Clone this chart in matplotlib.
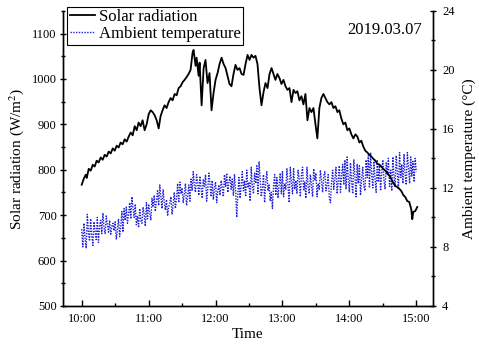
import matplotlib.pyplot as plt
from matplotlib.ticker import MultipleLocator, FixedLocator

# Solar radiation (W/m2), minutes after 10:00
solar_min = [0, 1.8, 3.6, 4.5, 6.3, 8.1, 9.9, 11.6, 13.4, 15.2,
             17.0, 18.8, 20.6, 22.4, 24.2, 26.0, 27.8, 29.6, 31.3, 33.1,
             34.9, 36.7, 38.5, 40.3, 42.1, 43.9, 45.7, 47.5, 49.3, 51.0,
             52.8, 54.6, 56.4, 58.2, 60.0, 61.8, 63.6, 65.4, 67.2, 69.0,
             70.7, 72.5, 74.3, 76.1, 77.9, 79.7, 81.5, 83.3, 85.1, 86.9,
             88.7, 90.5, 92.2, 94.0, 95.8, 97.6, 99.4, 100.3, 102.1, 103.0,
             104.8, 105.7, 107.5, 109.3, 111.0, 112.8, 114.6, 116.4, 118.2, 120.0,
             121.8, 123.6, 125.4, 127.2, 129.0, 130.7, 132.5, 134.3, 136.1, 137.9,
             139.7, 141.5, 143.3, 145.1, 146.9, 148.7, 150.5, 152.2, 154.0, 155.8,
             157.6, 159.4, 161.2, 163.0, 164.8, 166.6, 168.4, 170.2, 171.9, 173.7,
             175.5, 177.3, 179.1, 180.9, 182.7, 184.5, 186.3, 188.1, 189.9, 191.7,
             193.4, 195.2, 197.0, 198.8, 200.6, 202.4, 204.2, 206.0, 207.8, 209.6,
             211.3, 213.1, 214.9, 216.7, 218.5, 220.3, 222.1, 223.9, 225.7, 227.5,
             229.3, 231.0, 232.8, 234.6, 236.4, 238.2, 240.0, 241.8, 243.6, 245.4,
             247.2, 249.0, 250.7, 252.5, 254.3, 256.1, 257.9, 259.7, 261.5, 263.3,
             265.1, 266.9, 268.7, 270.4, 272.2, 274.0, 275.8, 277.6, 279.4, 281.2,
             283.0, 284.8, 286.6, 288.4, 290.1, 291.9, 293.7, 295.5, 296.4, 297.3,
             299.1, 300.9]
solar = [767, 780, 789, 782, 802, 798, 811, 807, 820, 816,
         827, 822, 833, 829, 840, 836, 847, 842, 853, 849,
         860, 856, 867, 862, 873, 882, 876, 896, 887, 904,
         896, 909, 887, 900, 922, 931, 927, 920, 909, 891,
         918, 931, 942, 936, 949, 958, 953, 967, 964, 980,
         984, 993, 998, 1004, 1011, 1020, 1058, 1064, 1029, 1047,
         1007, 1036, 942, 1024, 1042, 991, 1013, 931, 969, 998,
         1013, 1033, 1047, 1033, 1024, 1007, 989, 984, 1011, 1031,
         1020, 1024, 1011, 1009, 1033, 1053, 1042, 1053, 1047, 1051,
         1033, 980, 942, 971, 991, 980, 1011, 1024, 1011, 998,
         1011, 1002, 989, 998, 984, 976, 980, 949, 976, 969,
         973, 953, 962, 944, 967, 909, 936, 927, 936, 900,
         869, 936, 958, 967, 958, 949, 944, 949, 936, 940,
         927, 931, 913, 900, 904, 887, 891, 878, 869, 878,
         873, 860, 864, 851, 842, 838, 833, 829, 824, 820,
         813, 811, 807, 802, 798, 793, 787, 780, 771, 764,
         762, 758, 753, 744, 740, 731, 729, 713, 691, 707,
         709, 718]

# Ambient temperature (deg C), one reading per minute from 10:00 to 15:00
temp = [9.2, 8.0, 9.6, 8.6, 7.9, 10.2, 9.0, 8.4, 9.9, 8.8,
        8.1, 9.7, 9.0, 8.5, 10.0, 8.3, 9.4, 9.8, 8.9, 10.3,
        9.3, 8.9, 10.1, 9.5, 9.0, 9.8, 8.8, 9.4, 9.6, 9.1,
        9.7, 8.5, 9.2, 9.9, 8.7, 9.4, 10.4, 9.0, 10.6, 9.8,
        10.7, 9.6, 10.2, 11.0, 9.9, 11.4, 10.6, 10.0, 10.9, 9.5,
        10.1, 9.3, 10.6, 9.8, 9.6, 10.7, 10.2, 9.4, 11.0, 9.9,
        10.9, 10.3, 9.8, 11.3, 10.7, 11.5, 10.4, 11.1, 11.8, 10.8,
        12.2, 11.4, 10.6, 11.9, 11.0, 10.5, 11.2, 10.1, 10.7, 11.0,
        11.4, 10.2, 10.9, 11.7, 10.6, 11.3, 12.3, 11.0, 12.4, 11.6,
        12.0, 11.0, 11.6, 12.3, 10.8, 11.4, 12.2, 11.1, 12.6, 11.8,
        13.1, 12.2, 11.7, 12.9, 12.3, 11.5, 12.8, 12.0, 11.3, 12.6,
        12.1, 12.9, 11.1, 11.9, 13.0, 12.3, 11.4, 12.5, 11.2, 12.0,
        12.4, 11.0, 11.8, 12.2, 11.5, 12.5, 12.0, 11.4, 12.9, 12.1,
        13.0, 11.7, 12.4, 12.8, 11.9, 12.6, 11.5, 12.9, 11.8, 10.0,
        11.6, 12.7, 11.3, 12.2, 13.1, 11.8, 12.5, 11.4, 13.2, 12.0,
        12.4, 11.1, 13.4, 12.1, 11.6, 13.0, 12.3, 13.5, 11.6, 13.8,
        12.6, 11.4, 12.0, 12.9, 11.0, 12.4, 13.1, 11.8, 12.2, 11.1,
        11.7, 10.6, 12.1, 12.9, 11.5, 12.7, 11.3, 12.2, 13.0, 11.6,
        13.1, 11.4, 12.3, 11.9, 13.3, 12.2, 11.0, 13.4, 12.4, 11.6,
        13.3, 11.9, 12.5, 11.6, 13.2, 12.6, 11.4, 12.9, 13.4, 11.8,
        12.4, 11.3, 13.4, 12.1, 11.6, 12.9, 12.2, 11.4, 13.3, 12.5,
        13.0, 11.4, 12.3, 11.9, 13.2, 12.5, 11.7, 12.8, 13.1, 11.8,
        12.2, 12.9, 11.3, 11.0, 12.4, 13.2, 11.9, 12.6, 13.4, 11.6,
        12.5, 13.5, 11.7, 12.8, 13.6, 12.2, 13.9, 11.9, 14.1, 12.6,
        11.7, 13.7, 12.4, 11.6, 13.9, 12.8, 11.4, 13.6, 12.3, 13.5,
        11.5, 12.6, 13.4, 12.1, 11.8, 13.9, 12.7, 14.2, 12.0, 14.4,
        12.9, 12.0, 13.8, 12.6, 11.7, 13.9, 12.4, 13.6, 11.8, 13.0,
        13.9, 12.5, 11.9, 13.7, 12.9, 14.0, 12.1, 13.2, 11.8, 14.1,
        12.8, 12.1, 14.2, 13.1, 11.9, 14.4, 12.7, 13.6, 12.3, 14.3,
        12.9, 12.2, 14.4, 13.4, 12.3, 14.1, 12.8, 13.8, 12.4, 14.0, 13.1]

hour_ticks = [10, 11, 12, 13, 14, 15]
hour_labels = ["10:00", "11:00", "12:00", "13:00", "14:00", "15:00"]

plt.rcParams["font.family"] = ["Liberation Serif", "DejaVu Serif"]
plt.rcParams["mathtext.fontset"] = "stix"

fig = plt.figure(figsize=(4.79, 3.52), dpi=100)
ax1 = fig.add_axes([0.1315, 0.131, 0.7725, 0.838])
ax2 = ax1.twinx()

# Time in decimal hours.
solar_t = [10 + m / 60 for m in solar_min]
temp_t = [10 + m / 60 for m in range(len(temp))]

l1, = ax1.plot(solar_t, solar, color="black", linewidth=1.3, label="Solar radiation")
l2, = ax2.plot(temp_t, temp, color="#1f1fd8", linewidth=1.0,
               linestyle=(0, (1.0, 1.0)), label="Ambient temperature")

# Keep the solar curve and legend above the temperature trace.
ax1.set_zorder(ax2.get_zorder() + 1)
ax1.patch.set_visible(False)

ax1.set_xlim(9.72, 15.25)
ax1.set_ylim(500, 1150)
ax2.set_ylim(4, 24)

ax1.xaxis.set_major_locator(FixedLocator(hour_ticks))
ax1.set_xticklabels(hour_labels)
ax1.xaxis.set_minor_locator(MultipleLocator(0.5))
ax1.yaxis.set_major_locator(MultipleLocator(100))
ax1.yaxis.set_minor_locator(MultipleLocator(50))
ax2.yaxis.set_major_locator(MultipleLocator(4))
ax2.yaxis.set_minor_locator(MultipleLocator(2))

for ax in (ax1, ax2):
    ax.spines["top"].set_visible(False)
    for sp in ax.spines.values():
        sp.set_linewidth(1.0)

ax1.tick_params(axis="x", which="major", direction="in", length=4, width=1, labelsize=9, pad=5)
ax1.tick_params(axis="x", which="minor", direction="in", length=2.5, width=1)
ax1.tick_params(axis="y", which="major", direction="inout", length=5, width=1, labelsize=9, pad=2)
ax1.tick_params(axis="y", which="minor", direction="inout", length=3, width=1)
ax2.tick_params(axis="y", which="major", direction="inout", length=5, width=1, labelsize=9, pad=4)
ax2.tick_params(axis="y", which="minor", direction="inout", length=3, width=1)

ax1.set_xlabel("Time", fontsize=11, labelpad=2)
ax1.set_ylabel("Solar radiation (W/m$^2$)", fontsize=11, labelpad=4)
ax2.set_ylabel("Ambient temperature (\u00b0C)", fontsize=11, labelpad=6)

ax1.text(0.97, 0.936, "2019.03.07", transform=ax1.transAxes,
         ha="right", va="center", fontsize=12)

leg = ax1.legend(handles=[l1, l2], loc="upper left", bbox_to_anchor=(0.011, 1.014),
                 borderaxespad=0, fontsize=12, frameon=True, fancybox=False,
                 edgecolor="black", framealpha=1, borderpad=0.15, labelspacing=0.05,
                 handlelength=1.5, handletextpad=0.25)
leg.get_frame().set_linewidth(0.8)

fig.savefig("out.png", dpi=100)
